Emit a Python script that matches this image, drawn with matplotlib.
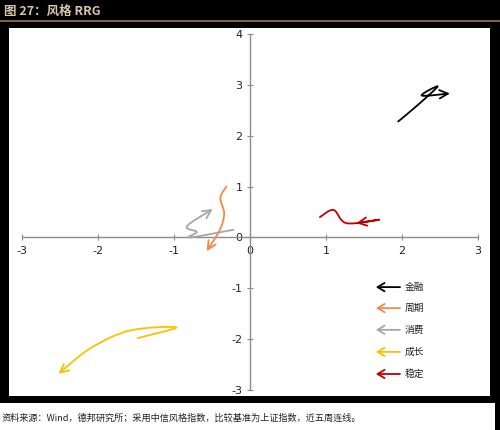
import matplotlib
matplotlib.use("Agg")
import matplotlib.pyplot as plt
from matplotlib.path import Path
from matplotlib.patches import FancyArrowPatch, Rectangle
from matplotlib.transforms import IdentityTransform
import numpy as np

plt.rcParams['font.family'] = ['Noto Sans CJK SC', 'DejaVu Sans']
plt.rcParams['axes.unicode_minus'] = False

# ---- data (last five weeks, RS-Ratio vs RS-Momentum, centred) ----
names = ["金融", "周期", "消费", "成长", "稳定"]
colors = ["#000000", "#F08A45", "#A6A6A6", "#FFC000", "#C00000"]
fin_x = [1.95, 2.22, 2.47, 2.26, 2.63]
fin_y = [2.28, 2.62, 2.97, 2.79, 2.83]
cyc_x = [-0.31, -0.39, -0.34, -0.40, -0.57]
cyc_y = [1.00, 0.78, 0.47, 0.14, -0.27]
con_x = [-0.22, -0.79, -0.70, -0.83, -0.49]
con_y = [0.15, 0.00, 0.11, 0.22, 0.56]
gro_x = [-1.48, -0.97, -1.58, -2.10, -2.52]
gro_y = [-1.98, -1.77, -1.83, -2.18, -2.68]
sta_x = [0.92, 1.10, 1.27, 1.70, 1.40]
sta_y = [0.40, 0.54, 0.28, 0.35, 0.28]
series_x = [fin_x, cyc_x, con_x, gro_x, sta_x]
series_y = [fin_y, cyc_y, con_y, gro_y, sta_y]

xticks = [-3, -2, -1, 0, 1, 2, 3]
yticks = [-3, -2, -1, 0, 1, 2, 3, 4]

title = "图 27：风格 RRG"
source = "资料来源：Wind，德邦研究所；采用中信风格指数，比较基准为上证指数，近五周连线。"

W, H = 500, 430
fig = plt.figure(figsize=(5, 4.3), dpi=100, facecolor="white")

def fx(px):
    return px / W

def fy(py):
    return 1 - py / H

# black background band + white plot panel
fig.patches.append(Rectangle((0, fy(403)), 1, 1 - fy(403), transform=fig.transFigure,
                             facecolor="black", edgecolor="none", zorder=0))
fig.patches.append(Rectangle((fx(495), 0), 1 - fx(495), 1, transform=fig.transFigure,
                             facecolor="black", edgecolor="none", zorder=0))
fig.patches.append(Rectangle((fx(9), fy(396)), fx(490) - fx(9), fy(28) - fy(396),
                             transform=fig.transFigure, facecolor="white",
                             edgecolor="none", zorder=1))
fig.lines.append(plt.Line2D([0, 1], [fy(21), fy(21)], transform=fig.transFigure,
                            color="#9A7550", lw=1.2, zorder=2))
fig.text(fx(4), fy(11), title, color="#D8C6AC", fontsize=9, fontweight="bold",
         va="center", ha="left", zorder=3)
fig.text(fx(2), fy(418), source, color="#222222", fontsize=6.6,
         va="center", ha="left", zorder=3)

ax = fig.add_axes([fx(22), fy(390), fx(478) - fx(22), fy(34) - fy(390)])
ax.set_zorder(5)
ax.patch.set_alpha(0)
ax.set_xlim(-3, 3)
ax.set_ylim(-3, 4)
ax.set_xticks(xticks)
ax.set_yticks(yticks)
ax.set_xticklabels([str(v) for v in xticks])
ax.set_yticklabels([str(v) for v in yticks])
for s in ["top", "right"]:
    ax.spines[s].set_visible(False)
ax.spines["left"].set_position(("data", 0))
ax.spines["bottom"].set_position(("data", 0))
for s in ["left", "bottom"]:
    ax.spines[s].set_color("#8C8C8C")
    ax.spines[s].set_linewidth(1.0)
ax.tick_params(direction="inout", length=5, width=0.8, color="#8C8C8C",
               labelsize=8, labelcolor="#222222")
ax.tick_params(axis="x", pad=4)
ax.tick_params(axis="y", pad=3)
for lab in ax.get_xticklabels() + ax.get_yticklabels():
    lab.set_fontfamily(["DejaVu Sans"])

fig.canvas.draw()


def smooth_path(xs, ys):
    pts = ax.transData.transform(np.column_stack([xs, ys]))
    n = len(pts)
    verts = [pts[0]]
    codes = [Path.MOVETO]
    for i in range(n - 1):
        p0 = pts[i - 1] if i > 0 else pts[i]
        p1 = pts[i]
        p2 = pts[i + 1]
        p3 = pts[i + 2] if i + 2 < n else pts[i + 1]
        c1 = p1 + (p2 - p0) / 6.0
        c2 = p2 - (p3 - p1) / 6.0
        verts += [c1, c2, p2]
        codes += [Path.CURVE4] * 3
    return Path(verts, codes)


for xs, ys, c in zip(series_x, series_y, colors):
    arr = FancyArrowPatch(path=smooth_path(xs, ys),
                          arrowstyle="->,head_length=6,head_width=3",
                          color=c, lw=1.3, transform=IdentityTransform(),
                          mutation_scale=1, zorder=6)
    ax.add_artist(arr)

# legend (arrows pointing left)
leg_y = [0.289, 0.230, 0.169, 0.107, 0.045]
for name, c, yy in zip(names, colors, leg_y):
    ax.annotate("", xy=(0.776, yy), xytext=(0.829, yy), xycoords="axes fraction",
                arrowprops=dict(arrowstyle="->,head_length=0.5,head_width=0.3",
                                color=c, lw=1.3, shrinkA=0, shrinkB=0))
    ax.text(0.840, yy, name, transform=ax.transAxes, fontsize=7, va="center",
            ha="left", color="#222222")

fig.savefig("out.png", dpi=100, facecolor="white")
